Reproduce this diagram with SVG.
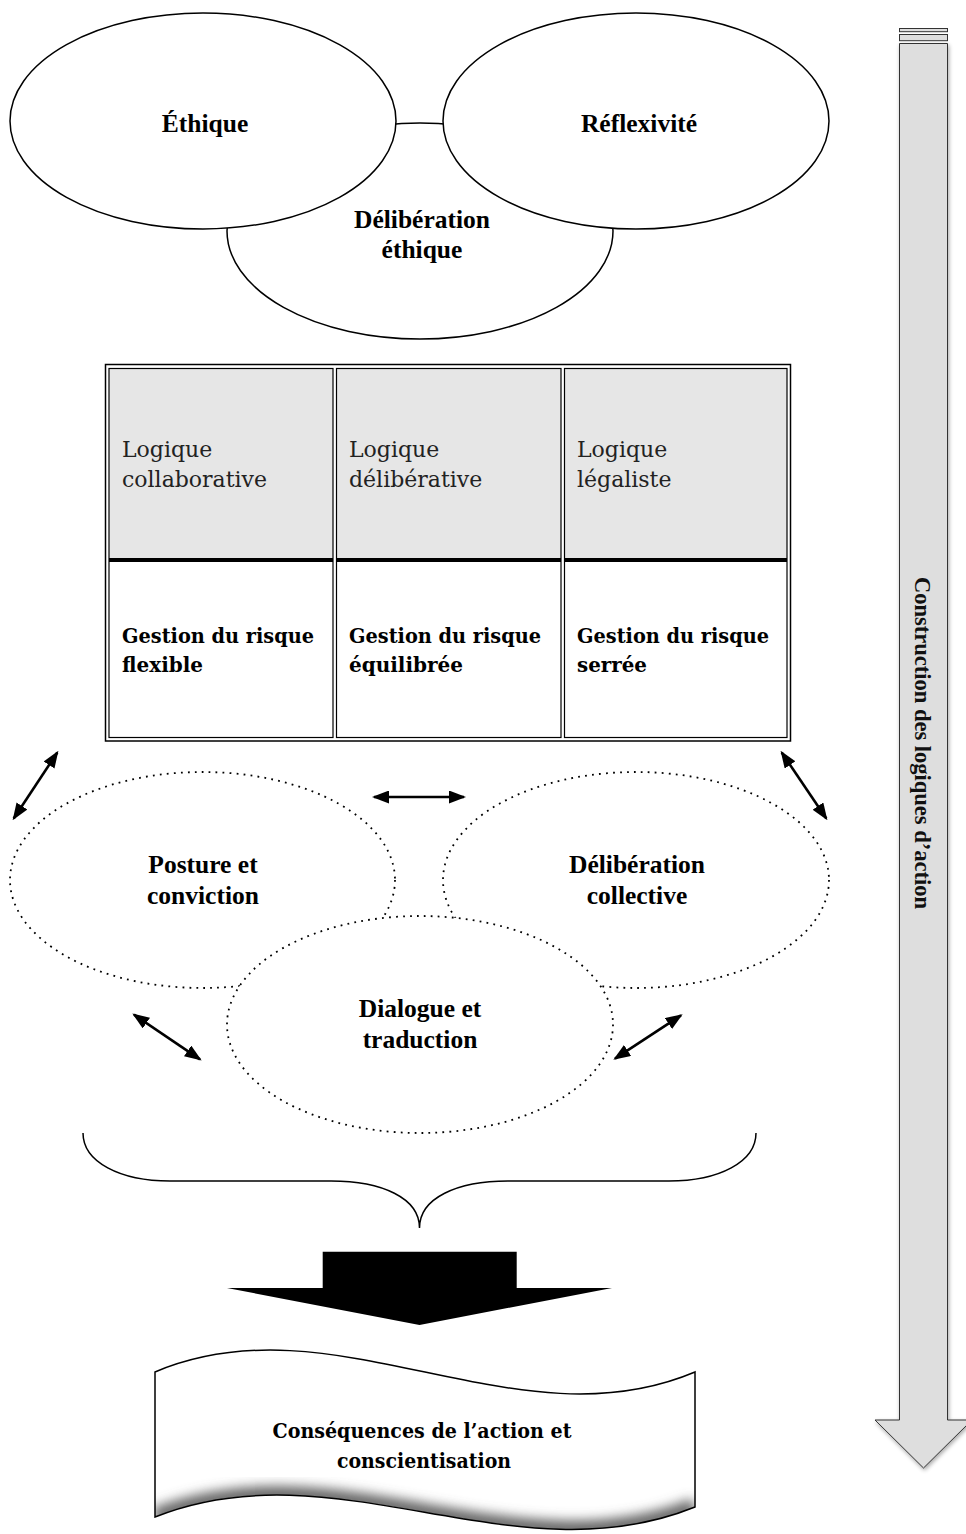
<svg xmlns="http://www.w3.org/2000/svg" width="966" height="1534" viewBox="0 0 966 1534">
<style>
.ell{fill:#fff;stroke:#000;stroke-width:1.5}
.dot{fill:#fff;stroke:#000;stroke-width:1.8;stroke-dasharray:1.8 5.2}
.tb{font-family:"Liberation Serif","Times New Roman",serif;font-weight:bold;font-size:25.5px;fill:#000;text-anchor:middle}
.reg{font-family:"DejaVu Serif",serif;font-size:22px;fill:#222}
.bld{font-family:"DejaVu Serif",serif;font-weight:bold;font-size:20px;fill:#000}
.cell{fill:none;stroke:#000;stroke-width:1.2}
.con{stroke:#000;stroke-width:2.6;fill:none;marker-start:url(#ah);marker-end:url(#ah)}
</style>
<defs>
<marker id="ah" viewBox="0 0 17 13" refX="15" refY="6.5" markerWidth="17" markerHeight="13" markerUnits="userSpaceOnUse" orient="auto-start-reverse">
<path d="M0,0 L17,6.5 L0,13 Z" fill="#000"/>
</marker>
<filter id="sh" x="-20%" y="-5%" width="140%" height="110%">
<feGaussianBlur in="SourceAlpha" stdDeviation="2"/>
<feOffset dx="1" dy="2" result="b"/>
<feComponentTransfer><feFuncA type="linear" slope="0.35"/></feComponentTransfer>
<feMerge><feMergeNode/><feMergeNode in="SourceGraphic"/></feMerge>
</filter>
<filter id="blur" x="-20%" y="-50%" width="140%" height="200%">
<feGaussianBlur stdDeviation="6"/>
</filter>
<clipPath id="bannerClip">
<path d="M155,1372 C335,1296 515,1448 695,1372 L695,1507 C515,1580 335,1445 155,1517 Z"/>
</clipPath>
</defs>

<g id="deliberation-ethique">
<ellipse class="ell" cx="420" cy="231" rx="193" ry="108"/>
</g>
<g id="ethique">
<ellipse class="ell" cx="203" cy="121" rx="193" ry="108"/>
<text class="tb" x="205" y="132">Éthique</text>
</g>
<g id="reflexivite">
<ellipse class="ell" cx="636" cy="121" rx="193" ry="108"/>
<text class="tb" x="639" y="132">Réflexivité</text>
</g>
<g id="deliberation-ethique-label">
<text class="tb" x="422" y="228">Délibération</text>
<text class="tb" x="422" y="258">éthique</text>
</g>

<g id="table">
<rect x="105.5" y="364.5" width="685" height="376.5" fill="#fff" stroke="#000" stroke-width="1.5"/>
<rect x="109" y="368.5" width="224" height="191" fill="#e6e6e6"/>
<rect x="336.5" y="368.5" width="224.5" height="191" fill="#e6e6e6"/>
<rect x="564.5" y="368.5" width="222.5" height="191" fill="#e6e6e6"/>
<rect class="cell" x="109" y="368.5" width="224" height="369"/>
<rect class="cell" x="336.5" y="368.5" width="224.5" height="369"/>
<rect class="cell" x="564.5" y="368.5" width="222.5" height="369"/>
<line x1="109" y1="560" x2="333" y2="560" stroke="#000" stroke-width="3.8"/>
<line x1="336.5" y1="560" x2="561" y2="560" stroke="#000" stroke-width="3.8"/>
<line x1="564.5" y1="560" x2="787" y2="560" stroke="#000" stroke-width="3.8"/>
<g id="col-collaborative">
<text class="reg" x="122" y="457">Logique</text>
<text class="reg" x="122" y="487">collaborative</text>
<text class="bld" x="122" y="643" textLength="192" lengthAdjust="spacingAndGlyphs">Gestion du risque</text>
<text class="bld" x="122" y="672" textLength="81" lengthAdjust="spacingAndGlyphs">flexible</text>
</g>
<g id="col-deliberative">
<text class="reg" x="349" y="457">Logique</text>
<text class="reg" x="349" y="487">délibérative</text>
<text class="bld" x="349" y="643" textLength="192" lengthAdjust="spacingAndGlyphs">Gestion du risque</text>
<text class="bld" x="349" y="672" textLength="114" lengthAdjust="spacingAndGlyphs">équilibrée</text>
</g>
<g id="col-legaliste">
<text class="reg" x="577" y="457">Logique</text>
<text class="reg" x="577" y="487">légaliste</text>
<text class="bld" x="577" y="643" textLength="192" lengthAdjust="spacingAndGlyphs">Gestion du risque</text>
<text class="bld" x="577" y="672" textLength="70" lengthAdjust="spacingAndGlyphs">serrée</text>
</g>
</g>

<g id="posture">
<ellipse class="dot" cx="202.5" cy="880" rx="192.5" ry="108"/>
<text class="tb" x="203" y="873">Posture et</text>
<text class="tb" x="203" y="904">conviction</text>
</g>
<g id="deliberation-collective">
<ellipse class="dot" cx="636" cy="880" rx="193" ry="108"/>
<text class="tb" x="637" y="873">Délibération</text>
<text class="tb" x="637" y="904">collective</text>
</g>
<g id="dialogue">
<ellipse class="dot" cx="420" cy="1024.5" rx="193" ry="108.5"/>
<text class="tb" x="420" y="1017">Dialogue et</text>
<text class="tb" x="420" y="1048">traduction</text>
</g>

<g id="connectors">
<line class="con" x1="57.3" y1="752.5" x2="13.7" y2="818.5"/>
<line class="con" x1="374" y1="797" x2="464" y2="797"/>
<line class="con" x1="781.7" y1="752.5" x2="826.3" y2="818.5"/>
<line class="con" x1="134" y1="1014.7" x2="200" y2="1059.3"/>
<line class="con" x1="681" y1="1015.3" x2="615" y2="1058.7"/>
</g>

<g id="bracket">
<path d="M83,1133 C83,1162 120,1181 170,1181 L331,1181 C382,1181 419.5,1198 419.5,1228 C419.5,1198 457,1181 508,1181 L669,1181 C719,1181 756,1162 756,1133" fill="none" stroke="#000" stroke-width="1.5"/>
</g>

<g id="block-arrow">
<path d="M322.7,1251.7 L516.7,1251.7 L516.7,1288 L612,1288 L419.5,1325 L227,1288 L322.7,1288 Z" fill="#000"/>
</g>

<g id="banner">
<path d="M155,1372 C335,1296 515,1448 695,1372 L695,1507 C515,1580 335,1445 155,1517 Z" fill="#fff"/>
<g clip-path="url(#bannerClip)">
<path d="M695,1507 C515,1580 335,1445 155,1517" fill="none" stroke="#666" stroke-width="18" filter="url(#blur)"/>
<path d="M695,1372 L695,1507" fill="none" stroke="#888" stroke-width="10" filter="url(#blur)"/>
</g>
<path d="M155,1372 C335,1296 515,1448 695,1372 L695,1507 C515,1580 335,1445 155,1517 Z" fill="none" stroke="#000" stroke-width="1.5"/>
<text class="bld" x="422" y="1438" text-anchor="middle" textLength="299" lengthAdjust="spacingAndGlyphs">Conséquences de l’action et</text>
<text class="bld" x="424" y="1468" text-anchor="middle" textLength="174" lengthAdjust="spacingAndGlyphs">conscientisation</text>
</g>

<g id="construction-arrow">
<rect x="899.5" y="28.5" width="48" height="3.2" fill="#dedede" stroke="#333" stroke-width="1"/>
<rect x="899.5" y="34.5" width="48" height="6.2" fill="#dedede" stroke="#333" stroke-width="1"/>
<path d="M899.5,43.5 L947.5,43.5 L947.5,1420 L972,1420 L923.5,1468 L875,1420 L899.5,1420 Z" fill="#dedede" stroke="#333" stroke-width="1" filter="url(#sh)"/>
<text transform="translate(915,743) rotate(90)" font-family="Liberation Serif, Times New Roman, serif" font-weight="bold" font-size="22.5" text-anchor="middle" fill="#111">Construction des logiques d’action</text>
</g>
</svg>
